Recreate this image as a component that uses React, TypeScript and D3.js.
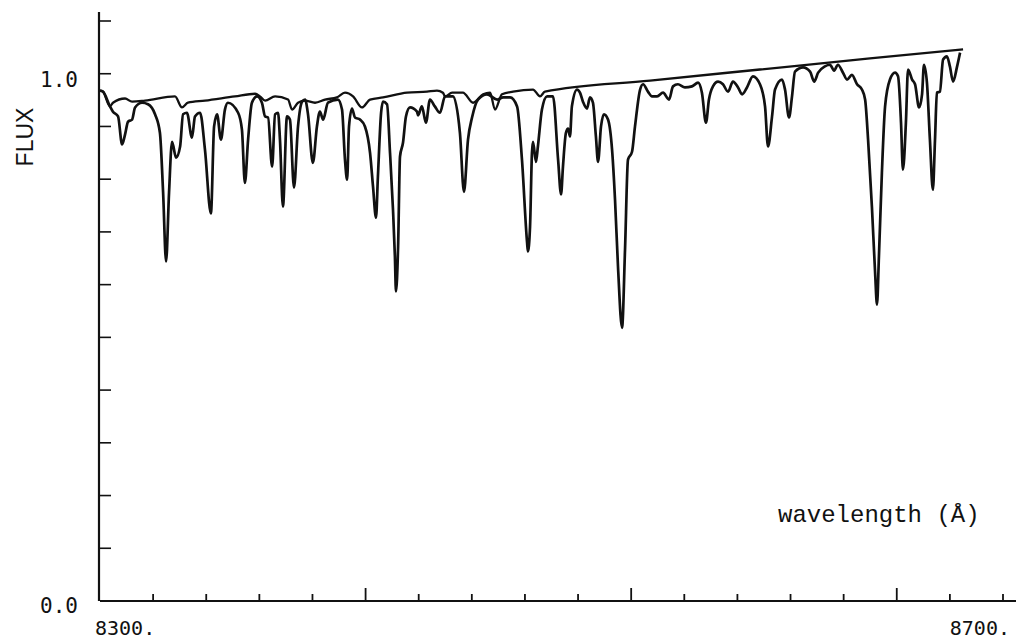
import { useEffect, useRef } from "react";
import * as d3 from "d3";

// wavelength (Å) and flux of the observed spectrum
const starWave = [
  8300.0, 8301.4, 8304.7, 8306.1, 8308.5, 8310.4, 8311.8, 8313.2, 8315.1, 8316.5,
  8319.8, 8322.6, 8325.9, 8328.2, 8329.7, 8331.1, 8332.5, 8333.9, 8335.8, 8337.7,
  8339.1, 8340.9, 8343.3, 8344.7, 8347.1, 8349.4, 8352.2, 8353.7, 8355.1, 8356.9,
  8358.8, 8360.2, 8365.0, 8366.8, 8368.2, 8369.7, 8371.5, 8373.9, 8376.2, 8377.7,
  8379.1, 8381.0, 8382.4, 8383.8, 8384.7, 8386.1, 8388.0, 8389.4, 8391.3, 8393.2,
  8395.1, 8396.5, 8397.9, 8400.2, 8402.1, 8403.5, 8405.0, 8407.3, 8412.0, 8413.9,
  8415.3, 8416.3, 8417.2, 8418.6, 8420.0, 8422.4, 8424.7, 8427.1, 8428.5, 8429.9,
  8430.8, 8432.3, 8433.2, 8435.1, 8436.5, 8437.9, 8438.8, 8439.3, 8440.3, 8441.2,
  8442.6, 8444.0, 8445.9, 8449.2, 8449.7, 8451.5, 8453.4, 8455.3, 8457.6, 8460.0,
  8462.4, 8466.1, 8469.4, 8471.3, 8473.2, 8475.1, 8477.9, 8482.1, 8486.9, 8489.7,
  8493.0, 8496.3, 8498.6, 8501.0, 8501.4, 8502.4, 8503.3, 8503.8, 8505.2, 8506.1,
  8508.0, 8510.4, 8513.2, 8515.6, 8517.0, 8517.9, 8519.3, 8520.3, 8521.2, 8522.1,
  8524.5, 8525.9, 8527.3, 8529.2, 8530.6, 8532.0, 8533.4, 8534.4, 8535.8, 8537.2,
  8539.1, 8541.0, 8542.4, 8543.8, 8545.7, 8547.1, 8548.5, 8550.4, 8551.8, 8554.2,
  8555.6, 8557.9, 8559.8, 8562.2, 8565.0, 8567.8, 8569.7, 8572.0, 8575.3, 8578.6,
  8581.5, 8583.3, 8585.2, 8586.6, 8588.5, 8590.9, 8593.2, 8595.6, 8597.9, 8600.3,
  8602.2, 8604.5, 8607.3, 8610.6, 8613.0, 8614.4, 8616.3, 8617.7, 8621.0, 8622.4,
  8624.3, 8625.7, 8627.1, 8630.9, 8634.2, 8636.1, 8638.0, 8641.2, 8643.6, 8645.5,
  8647.3, 8649.7, 8651.6, 8653.9, 8656.3, 8658.6, 8660.1, 8661.5, 8663.3, 8664.8,
  8665.7, 8666.6, 8668.0, 8669.5, 8671.8, 8674.2, 8675.6, 8677.0, 8677.9, 8679.3,
  8680.3, 8682.2, 8683.6, 8685.5, 8686.9, 8687.8, 8689.2, 8690.6, 8692.0, 8693.0,
  8693.9, 8695.3, 8696.8, 8698.6, 8700.0, 8701.5, 8703.4, 8704.8,
];
const starFlux = [
  0.968, 0.966, 0.938, 0.928, 0.919, 0.866, 0.885, 0.909, 0.913, 0.936,
  0.945, 0.942, 0.923, 0.888, 0.775, 0.644, 0.775, 0.871, 0.841, 0.862,
  0.923, 0.926, 0.879, 0.919, 0.926, 0.856, 0.735, 0.9, 0.923, 0.875,
  0.932, 0.945, 0.926, 0.894, 0.793, 0.875, 0.945, 0.957, 0.945, 0.919,
  0.917, 0.824, 0.923, 0.926, 0.875, 0.748, 0.919, 0.913, 0.784, 0.9,
  0.947, 0.951, 0.923, 0.831, 0.9, 0.928, 0.913, 0.945, 0.951, 0.932,
  0.837, 0.799, 0.9, 0.934, 0.917, 0.913, 0.9, 0.85, 0.786, 0.727,
  0.805, 0.926, 0.947, 0.942, 0.85, 0.742, 0.653, 0.587, 0.672, 0.843,
  0.869, 0.919, 0.936, 0.928, 0.921, 0.938, 0.907, 0.951, 0.938, 0.926,
  0.957, 0.957, 0.888, 0.776, 0.875, 0.917, 0.951, 0.961, 0.951, 0.955,
  0.955, 0.938, 0.837, 0.68, 0.663, 0.71, 0.85, 0.871, 0.833, 0.862,
  0.932, 0.957, 0.957, 0.837, 0.771, 0.824, 0.888, 0.896, 0.881, 0.938,
  0.97, 0.964, 0.947, 0.934, 0.955, 0.945, 0.881, 0.833, 0.9, 0.923,
  0.913, 0.856, 0.761, 0.634, 0.518, 0.666, 0.837, 0.852, 0.9, 0.97,
  0.98, 0.966, 0.957, 0.957, 0.964, 0.951, 0.976, 0.98, 0.974, 0.976,
  0.983, 0.964, 0.907, 0.951, 0.976, 0.985, 0.98, 0.966, 0.985, 0.974,
  0.961, 0.974, 0.995, 0.98, 0.938, 0.862, 0.919, 0.97, 0.989, 0.97,
  0.917, 0.957, 1.004, 1.012, 1.004, 0.985, 1.002, 1.014, 1.017, 1.006,
  1.017, 1.002, 0.989, 0.998, 0.98, 0.97, 0.951, 0.875, 0.748, 0.623,
  0.562, 0.653, 0.812, 0.938, 0.989, 1.002, 0.995, 0.907, 0.818, 0.907,
  1.008, 0.989, 0.98, 0.936, 0.961, 1.017, 0.983, 0.875, 0.78, 0.875,
  0.964, 0.966, 1.027, 1.033, 1.014, 0.985, 1.014, 1.04,
];

// comparison spectrum, running into the continuum on the red side
const refWave = [
  8300.0, 8301.4, 8304.7, 8306.1, 8311.8, 8315.1, 8321.2, 8335.3, 8338.6, 8341.4,
  8349.4, 8363.5, 8373.0, 8375.3, 8377.7, 8382.4, 8388.5, 8390.4, 8393.2, 8396.5,
  8401.2, 8405.9, 8411.5, 8415.3, 8419.1, 8423.3, 8427.1, 8433.2, 8444.5, 8453.9,
  8458.6, 8461.4, 8462.4, 8465.7, 8470.8, 8475.6, 8480.3, 8483.6, 8485.9, 8489.2,
  8494.4, 8503.8, 8507.1, 8509.4, 8558.9, 8610.6, 8662.4, 8706.2,
];
const refFlux = [
  0.968, 0.966, 0.938, 0.945, 0.953, 0.947, 0.949, 0.957, 0.936, 0.945,
  0.949, 0.957, 0.962, 0.957, 0.949, 0.957, 0.951, 0.932, 0.945, 0.949,
  0.945, 0.951, 0.955, 0.964, 0.957, 0.936, 0.951, 0.955, 0.964, 0.966,
  0.968, 0.964, 0.957, 0.964, 0.964, 0.945, 0.961, 0.964, 0.932, 0.961,
  0.966, 0.97, 0.957, 0.966, 0.987, 1.008, 1.029, 1.046,
];

const xTicks = d3.range(8325, 8726, 25);
const yTicks = d3.range(1, 12).map((d) => d / 10);
const xLabels = ["8300.", "8700."];
const yLabels = ["0.0", "1.0"];

export default function App() {
  const ref = useRef<SVGSVGElement>(null);

  useEffect(() => {
    document.body.style.margin = "0";
    const svg = d3.select(ref.current);
    svg.selectAll("*").remove();

    const x = d3.scaleLinear().domain([8300, 8725]).range([100, 1003]);
    const y = d3.scaleLinear().domain([0, 1.1]).range([601, 21]);
    const ink = "#111";

    // axes
    svg
      .append("line")
      .attr("x1", x(8300))
      .attr("x2", 1016)
      .attr("y1", y(0))
      .attr("y2", y(0))
      .attr("stroke", ink)
      .attr("stroke-width", 2.2);
    svg
      .append("line")
      .attr("x1", x(8300) - 1)
      .attr("x2", x(8300) - 1)
      .attr("y1", y(0))
      .attr("y2", y(1.117))
      .attr("stroke", ink)
      .attr("stroke-width", 2.2);

    svg
      .append("g")
      .selectAll("line")
      .data(xTicks)
      .join("line")
      .attr("x1", (d) => x(d))
      .attr("x2", (d) => x(d))
      .attr("y1", y(0))
      .attr("y2", (d) => y(0) - ((d - 8300) % 125 === 0 ? 13 : 7))
      .attr("stroke", ink)
      .attr("stroke-width", 1.8);

    svg
      .append("g")
      .selectAll("line")
      .data(yTicks)
      .join("line")
      .attr("x1", x(8300) - 1)
      .attr("x2", x(8300) + 11)
      .attr("y1", (d) => y(d))
      .attr("y2", (d) => y(d))
      .attr("stroke", ink)
      .attr("stroke-width", 1.6);

    // tick labels
    const mono = "'DejaVu Sans Mono', monospace";
    svg
      .append("text")
      .attr("x", 40)
      .attr("y", y(1) + 13)
      .attr("font-family", mono)
      .attr("font-size", 21)
      .attr("fill", ink)
      .text(yLabels[1]);
    svg
      .append("text")
      .attr("x", 40)
      .attr("y", y(0) + 12)
      .attr("font-family", mono)
      .attr("font-size", 21)
      .attr("fill", ink)
      .text(yLabels[0]);
    svg
      .append("text")
      .attr("x", x(8300) - 5)
      .attr("y", 635)
      .attr("font-family", mono)
      .attr("font-size", 20)
      .attr("fill", ink)
      .text(xLabels[0]);
    svg
      .append("text")
      .attr("x", x(8725) + 7)
      .attr("y", 635)
      .attr("text-anchor", "end")
      .attr("font-family", mono)
      .attr("font-size", 20)
      .attr("fill", ink)
      .text(xLabels[1]);

    // axis titles
    svg
      .append("text")
      .attr("transform", `translate(33,${y(0.88)}) rotate(-90)`)
      .attr("text-anchor", "middle")
      .attr("font-family", "'Liberation Sans', Arial, sans-serif")
      .attr("font-size", 23)
      .attr("fill", ink)
      .text("FLUX");
    svg
      .append("text")
      .attr("x", 778)
      .attr("y", 522)
      .attr("font-family", "'Liberation Mono', 'Courier New', monospace")
      .attr("font-size", 24)
      .attr("fill", ink)
      .text("wavelength (Å)");

    // spectra
    const line = d3
      .line<[number, number]>()
      .x((d) => x(d[0]))
      .y((d) => y(d[1]))
      .curve(d3.curveMonotoneX);

    const refData = refWave.map((w, i) => [w, refFlux[i]] as [number, number]);
    const starData = starWave.map((w, i) => [w, starFlux[i]] as [number, number]);

    svg
      .append("path")
      .datum(refData)
      .attr("fill", "none")
      .attr("stroke", ink)
      .attr("stroke-width", 2.3)
      .attr("stroke-linejoin", "round")
      .attr("d", line);

    svg
      .append("path")
      .datum(starData)
      .attr("fill", "none")
      .attr("stroke", ink)
      .attr("stroke-width", 2.7)
      .attr("stroke-linejoin", "round")
      .attr("d", line);
  }, []);

  return (
    <svg
      ref={ref}
      width={1016}
      height={641}
      style={{ display: "block", background: "#fff" }}
    />
  );
}
